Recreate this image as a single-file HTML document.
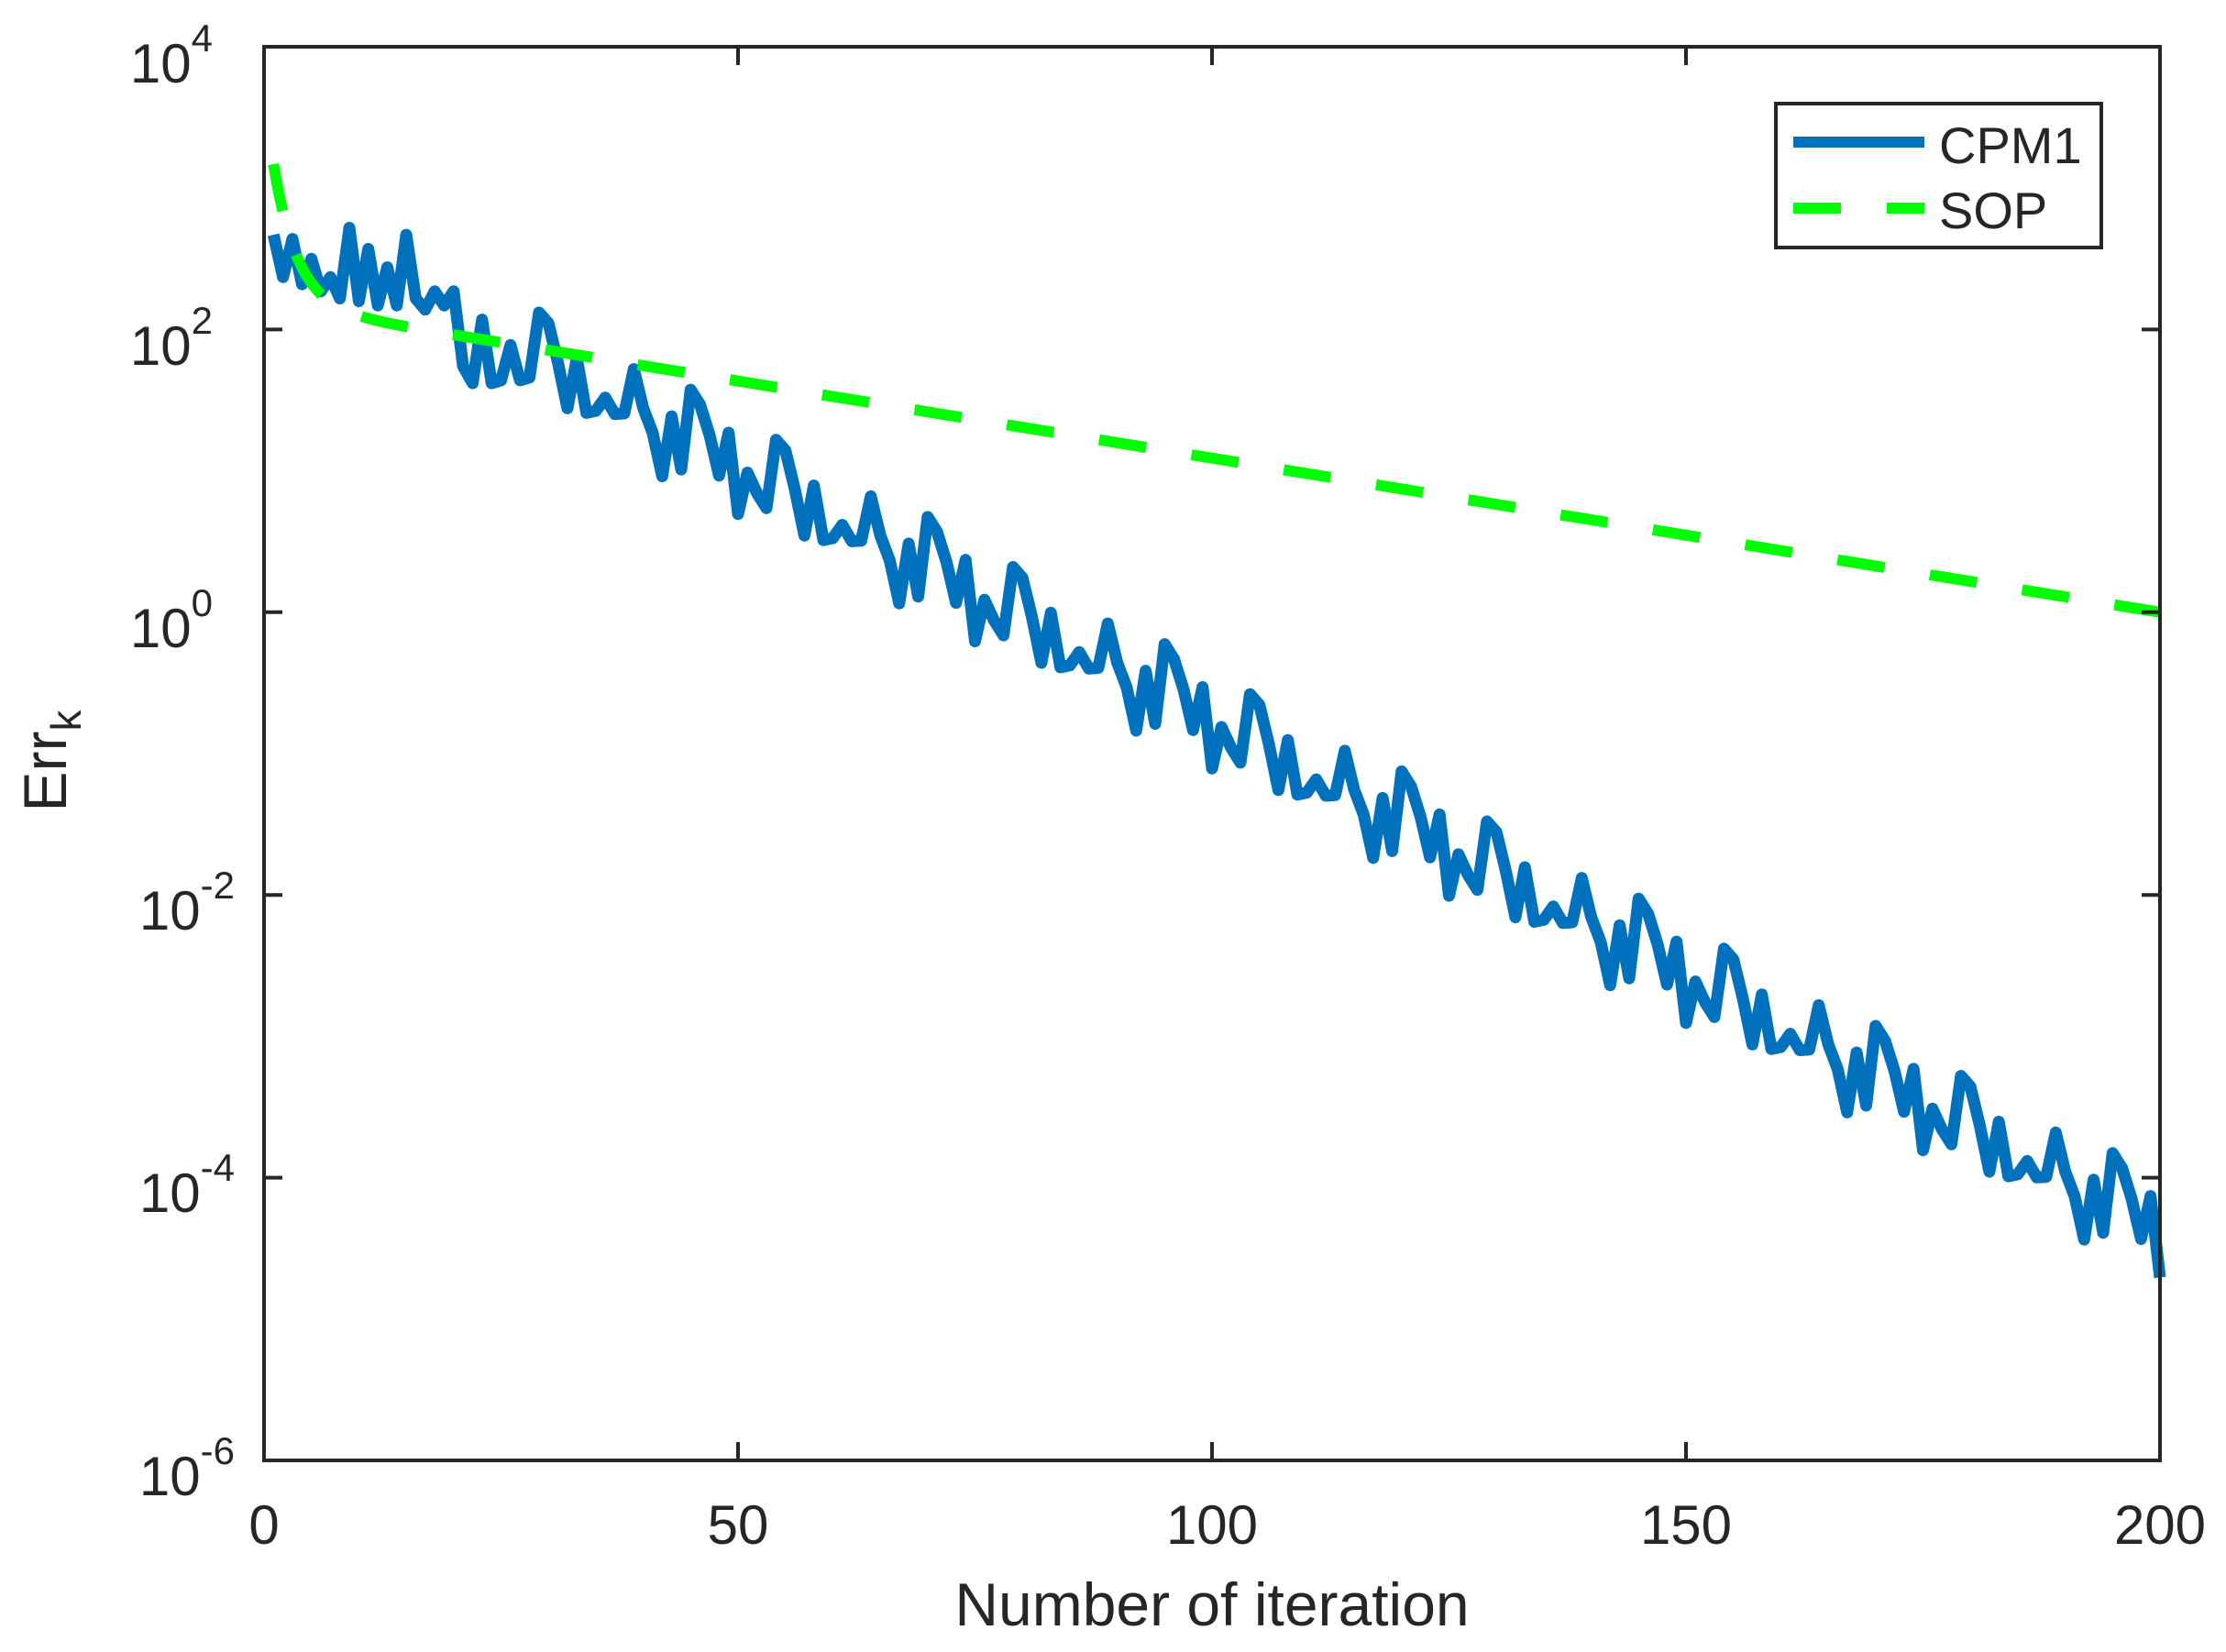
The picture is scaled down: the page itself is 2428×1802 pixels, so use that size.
<!DOCTYPE html>
<html><head><meta charset="utf-8"><style>
html,body{margin:0;padding:0;background:#fff;}
svg{display:block;}
text{font-family:"Liberation Sans",sans-serif;fill:#262626;}
</style></head><body>
<svg id="s" width="2428" height="1802" xmlns="http://www.w3.org/2000/svg">
<rect width="2428" height="1802" fill="#fff"/>
<g id="plot"></g>
<g stroke="#262626" stroke-width="4" fill="none">
<rect x="288" y="51" width="2068" height="1542"/>
<path d="M288 51h20M288 359.4h20M288 667.8h20M288 976.2h20M288 1284.6h20
M2356 51h-20M2356 359.4h-20M2356 667.8h-20M2356 976.2h-20M2356 1284.6h-20
M805 1593v-20M1322 1593v-20M1839 1593v-20M805 51v20M1322 51v20M1839 51v20"/>
</g>
<g font-size="60" text-anchor="end">
<text x="232" y="90">10<tspan font-size="42" dy="-34">4</tspan></text>
<text x="232" y="398">10<tspan font-size="42" dy="-34">2</tspan></text>
<text x="232" y="706">10<tspan font-size="42" dy="-34">0</tspan></text>
<text x="256" y="1014">10<tspan font-size="42" dy="-34">-2</tspan></text>
<text x="256" y="1322">10<tspan font-size="42" dy="-34">-4</tspan></text>
<text x="256" y="1631">10<tspan font-size="42" dy="-34">-6</tspan></text>
</g>
<g font-size="60" text-anchor="middle">
<text x="288" y="1684">0</text>
<text x="805" y="1684">50</text>
<text x="1322" y="1684">100</text>
<text x="1839" y="1684">150</text>
<text x="2356" y="1684">200</text>
</g>
<text x="1322" y="1773" font-size="66" text-anchor="middle">Number of iteration</text>
<text transform="translate(72,830) rotate(-90)" font-size="66" text-anchor="middle">Err<tspan font-size="46" dy="16">k</tspan></text>
<rect x="1937" y="113" width="355" height="157" fill="#fff" stroke="#262626" stroke-width="4"/>
<line x1="1956" y1="155" x2="2099" y2="155" stroke="#0072BD" stroke-width="12"/>
<line x1="1956" y1="227" x2="2099" y2="227" stroke="#00FF00" stroke-width="12" stroke-dasharray="52 50"/>
<text x="2115" y="178" font-size="56" fill="#000">CPM1</text>
<text x="2115" y="249" font-size="56" fill="#000">SOP</text>
</svg>
<script>
(function(){
var off=[0,-0.04,-0.28,-0.57,-0.18,-0.53,-0.48,-0.35,-0.43,-0.39,-0.04,-0.28,-0.42,-0.69,-0.23,-0.57,0.03,-0.04,-0.22,-0.47,-0.13,-0.67,-0.34,-0.45,-0.52];
var early=[2.67,2.37,2.64,2.32,2.5,2.27,2.37,2.22,2.72,2.2,2.57,2.17,2.44,2.17,2.67,2.22,2.14,2.27,2.17,2.27,1.74,1.62,2.07,1.62,1.64,1.89,1.64,1.66];
function X(k){return 288+k*10.34;}
function Y(l){return 51+(4-l)*154.2;}
var d="",e="";
for(var k=1;k<=200;k++){
 var l;
 if(k<=28) l=early[k-1];
 else {var i=(((k-54)%25)+25)%25; l=1.22-0.036*(k-54)+off[i];}
 d+=(k==1?"M":"L")+X(k).toFixed(1)+" "+Y(l).toFixed(1);
}
for(var k=1;k<=200;k+=0.5){
 var l=2.18-0.0109*k+1.0*Math.exp(-(k-1)/2.5);
 e+=(k==1?"M":"L")+X(k).toFixed(1)+" "+Y(l).toFixed(1);
}
var g=document.getElementById("plot");
g.innerHTML='<path d="'+d+'" fill="none" stroke="#0072BD" stroke-width="13" stroke-linejoin="round"/>'+
'<path d="'+e+'" fill="none" stroke="#00FF00" stroke-width="12" stroke-dasharray="52 50"/>';
})();
</script>
</body></html>
